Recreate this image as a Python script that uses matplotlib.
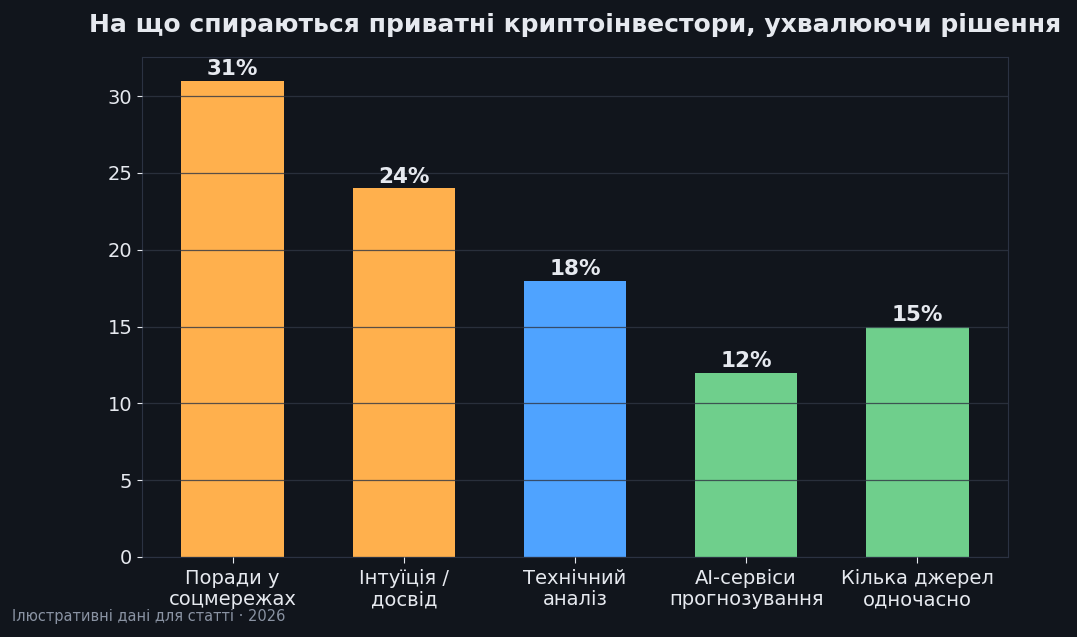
import matplotlib.pyplot as plt

plt.rcParams['font.family'] = ['DejaVu Sans']

categories = ["Поради у\nсоцмережах", "Інтуїція /\nдосвід", "Технічний\nаналіз",
              "AI-сервіси\nпрогнозування", "Кілька джерел\nодночасно"]
values = [31, 24, 18, 12, 15]
colors = ["#ffb04d", "#ffb04d", "#4fa3ff", "#6fcf8c", "#6fcf8c"]

bg = "#11151c"
text_color = "#e6e9ef"

fig = plt.figure(figsize=(10.77, 6.37), dpi=100, facecolor=bg)
ax = fig.add_axes([142 / 1077, 1 - 557 / 637, 866 / 1077, 500 / 637])
ax.set_facecolor(bg)

bars = ax.bar(range(len(values)), values, width=0.6, color=colors, zorder=1)
ax.bar_label(bars, labels=[f"{v}%" for v in values], padding=1,
             color=text_color, fontsize=15.5, fontweight="bold")

ax.set_xticks(range(len(values)))
ax.set_xticklabels(categories, linespacing=1.1)
ax.tick_params(colors=text_color, labelsize=14)
ax.tick_params(axis="x", length=4, pad=5)

ax.grid(axis="y", color="#303644", alpha=0.8, linewidth=0.9)
ax.set_axisbelow(False)

for s in ax.spines.values():
    s.set_color("#2b3242")

ax.set_title("На що спираються приватні криптоінвестори, ухвалюючи рішення",
             color=text_color, fontsize=18, fontweight="bold", pad=18)

fig.text(12 / 1077, 1 - 616 / 637, "Ілюстративні дані для статті · 2026",
         color="#8a93a3", fontsize=10.5, va="center")

fig.savefig("out.png", dpi=100, facecolor=bg)
